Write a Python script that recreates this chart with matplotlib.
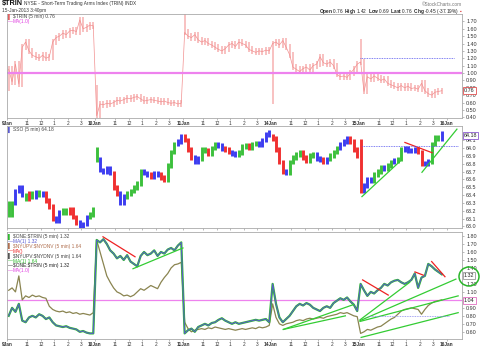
import matplotlib
matplotlib.use("Agg")
import matplotlib.pyplot as plt
import matplotlib.transforms as mtransforms
from matplotlib.patches import Ellipse
import numpy as np

# ---------------- data ----------------
days = ["9Jan", "10Jan", "11Jan", "14Jan", "15Jan"]
next_day = "16Jan"
hour_labels = ["11", "12", "1", "2", "3"]
hour_bars = [18, 30, 42, 54, 66]          # 5-min bars after the 9:30 open
BARS_PER_DAY = 78
STEP = 3                                  # one value per 15-minute block

# $TRIN closes (15-min blocks), and each day's opening print
trin_open = [0.80, 0.80, 1.78, 0.62, 1.42]
trin_9jan = [1.05, 0.88, 1.12, 0.85, 1.35, 1.42, 1.30, 1.24, 1.22, 1.20, 1.24, 1.20, 1.22,
             1.42, 1.48, 1.50, 1.54, 1.52, 1.57, 1.58, 1.56, 1.72, 1.60, 1.62, 1.65, 1.64]
trin_10jan = [0.42, 0.58, 0.57, 0.59, 0.58, 0.60, 0.63, 0.62, 0.64, 0.66, 0.65, 0.67, 0.68,
              0.65, 0.62, 0.63, 0.64, 0.63, 0.62, 0.61, 0.62, 0.60, 0.59, 0.60, 0.58, 0.59]
trin_11jan = [1.55, 1.50, 1.48, 1.52, 1.45, 1.42, 1.44, 1.40, 1.38, 1.35, 1.32, 1.30, 1.33,
              1.38, 1.40, 1.36, 1.42, 1.40, 1.38, 1.32, 1.30, 1.28, 1.30, 1.29, 1.31, 1.30]
trin_14jan = [1.40, 1.42, 1.38, 1.44, 1.35, 1.25, 1.08, 1.05, 1.02, 1.06, 1.08, 1.04, 1.10,
              1.12, 1.22, 1.14, 1.12, 1.15, 1.10, 0.98, 0.95, 0.96, 0.94, 1.00, 1.05, 1.12]
trin_15jan = [1.15, 0.75, 0.95, 0.92, 0.96, 0.93, 0.90, 0.92, 0.86, 0.84, 0.82, 0.80, 0.83,
              0.80, 0.82, 0.79, 0.80, 0.78, 0.86, 0.76, 0.72, 0.70, 0.74, 0.75, 0.76]

# SSO closes (15-min blocks), day opens and bar colours (g/r/b)
sso_open = [63.30, 63.98, 64.15, 64.15, 64.08]
sso_9jan = [63.15, 63.30, 63.45, 63.50, 63.40, 63.36, 63.42, 63.38, 63.43, 63.40, 63.42, 63.33, 63.25,
            63.10, 63.08, 63.18, 63.20, 63.18, 63.22, 63.12, 63.05, 63.01, 63.03, 63.12, 63.15, 63.22]
sso_10jan = [63.85, 63.72, 63.70, 63.74, 63.68, 63.50, 63.42, 63.30, 63.38, 63.42, 63.45, 63.50, 63.55,
             63.70, 63.68, 63.66, 63.64, 63.68, 63.66, 63.62, 63.60, 63.78, 63.95, 64.05, 64.08, 64.15]
sso_11jan = [64.10, 63.98, 63.88, 63.83, 63.87, 63.98, 63.97, 63.93, 64.00, 64.04, 64.03, 63.99, 63.98,
             63.95, 63.93, 63.92, 63.94, 64.02, 64.03, 64.00, 64.05, 64.06, 64.04, 64.10, 64.17, 64.20]
sso_14jan = [64.12, 63.98, 63.82, 63.70, 63.68, 63.82, 63.88, 63.92, 63.95, 63.88, 63.84, 63.90, 63.92,
             63.87, 63.85, 63.82, 63.86, 63.90, 63.95, 64.00, 64.05, 64.08, 64.12, 64.08, 63.98, 63.90]
sso_15jan = [63.45, 63.52, 63.60, 63.58, 63.66, 63.70, 63.75, 63.74, 63.78, 63.82, 63.84, 63.86, 63.98,
             64.00, 63.97, 63.96, 63.98, 63.95, 63.80, 63.80, 63.83, 64.05, 64.13, 64.12, 64.18]
sso_colors = ["ggbbbgrgbgbrrrbbggrrrbbbgg",
              "gbbbbrrbbgggggbbrbbrrgggbb",
              "rrrbbggrggbbrrbbgggrggbbbb",
              "rrrrbggggrrggbbrbgggbbbrrr",
              "rbbbgggbggbggbbbbrrbbgggb"]

# $ONE:$TRIN (15-min blocks)
one_9jan = [0.80, 0.90, 0.85, 0.95, 0.74, 0.72, 0.78, 0.80, 0.78, 0.82, 0.80, 0.76, 0.78,
            0.72, 0.68, 0.67, 0.66, 0.67, 0.65, 0.64, 0.63, 0.60, 0.61, 0.59, 0.58, 0.58]
one_10jan = [1.75, 1.72, 1.76, 1.70, 1.62, 1.58, 1.52, 1.55, 1.50, 1.56, 1.48, 1.45, 1.42,
             1.55, 1.60, 1.56, 1.58, 1.62, 1.55, 1.60, 1.58, 1.63, 1.65, 1.62, 1.68, 1.72]
one_11jan = [0.58, 0.62, 0.64, 0.60, 0.66, 0.68, 0.70, 0.68, 0.71, 0.72, 0.75, 0.77, 0.74,
             0.72, 0.70, 0.72, 0.70, 0.71, 0.72, 0.73, 0.74, 0.75, 0.74, 0.75, 0.76, 0.72]
one_14jan = [1.20, 0.95, 0.78, 0.72, 0.76, 0.80, 0.86, 0.92, 0.95, 0.93, 0.96, 0.94, 0.90,
             0.88, 0.86, 0.90, 0.92, 0.90, 0.96, 0.99, 1.02, 1.00, 1.03, 0.98, 0.94, 0.86]
one_15jan = [1.20, 1.12, 1.05, 1.10, 1.08, 1.12, 1.15, 1.20, 1.18, 1.22, 1.24, 1.25, 1.22,
             1.20, 1.22, 1.25, 1.33, 1.15, 1.28, 1.30, 1.45, 1.42, 1.38, 1.35, 1.32]

# $NYUPV:$NYDNV (15-min blocks)
upv_9jan = [1.12, 1.15, 1.10, 1.30, 1.00, 1.05, 1.03, 1.06, 1.04, 1.05, 1.03, 1.02, 0.92,
            0.88, 0.86, 0.85, 0.86, 0.84, 0.85, 0.83, 0.84, 0.82, 0.83, 0.82, 0.81, 0.84]
upv_10jan = [1.75, 1.60, 1.45, 1.30, 1.22, 1.15, 1.10, 1.08, 1.05, 1.06, 1.04, 1.06, 1.10,
             1.14, 1.12, 1.15, 1.18, 1.16, 1.14, 1.22, 1.28, 1.33, 1.40, 1.44, 1.45, 1.47]
upv_11jan = [0.72, 0.64, 0.60, 0.62, 0.63, 0.64, 0.63, 0.65, 0.64, 0.66, 0.65, 0.64, 0.63,
             0.64, 0.63, 0.62, 0.63, 0.64, 0.63, 0.64, 0.65, 0.64, 0.66, 0.65, 0.66, 0.68]
upv_14jan = [0.95, 0.78, 0.70, 0.68, 0.70, 0.71, 0.72, 0.74, 0.75, 0.74, 0.76, 0.77, 0.76,
             0.77, 0.78, 0.77, 0.79, 0.80, 0.81, 0.82, 0.84, 0.83, 0.84, 0.82, 0.80, 0.79]
upv_15jan = [0.58, 0.60, 0.63, 0.62, 0.64, 0.66, 0.67, 0.70, 0.73, 0.76, 0.78, 0.82, 0.86,
             0.88, 0.89, 0.90, 0.89, 0.88, 0.82, 0.88, 0.93, 0.96, 0.98, 0.99, 1.00]

# hand-drawn trend lines: ((bar, value), (bar, value))
sso_green_lines = [((314.7, 63.38), (348.4, 63.83)), ((367.9, 63.69), (398.9, 64.24))]
sso_red_lines = [((352.8, 64.07), (376.8, 63.94))]
sso_dotted = (314.7, 399.8, 64.03)
trin_dotted = (313.0, 396.0, 1.20)
ratio_red_lines = [((85.1, 1.79), (113.5, 1.54)), ((315.3, 1.25), (338.0, 1.06)),
                   ((361.7, 1.35), (369.0, 1.31)), ((376.5, 1.48), (388.3, 1.29))]
ratio_green_lines = [((111.7, 1.39), (156.0, 1.65)), ((245.0, 0.63), (307.0, 0.94)),
                     ((245.0, 0.63), (300.0, 0.80)), ((313.0, 0.75), (357.0, 1.22)),
                     ((313.0, 0.74), (398.0, 1.26)), ((313.0, 0.73), (400.0, 1.05)),
                     ((314.0, 0.53), (400.0, 0.84))]
ratio_dotted = (320.0, 392.0, 0.80)

# ---------------- helpers ----------------
trin_days = [trin_9jan, trin_10jan, trin_11jan, trin_14jan, trin_15jan]
sso_days = [sso_9jan, sso_10jan, sso_11jan, sso_14jan, sso_15jan]
one_days = [one_9jan, one_10jan, one_11jan, one_14jan, one_15jan]
upv_days = [upv_9jan, upv_10jan, upv_11jan, upv_14jan, upv_15jan]


def positions(d, n):
    return d * BARS_PER_DAY + STEP * np.arange(n) + STEP / 2.0


def bars(series_days, opens, wick):
    xs, o, c, lo, hi = [], [], [], [], []
    for d, vals in enumerate(series_days):
        x = positions(d, len(vals))
        prev = opens[d]
        for xi, v in zip(x, vals):
            xs.append(xi); o.append(prev); c.append(v)
            lo.append(min(prev, v) - wick); hi.append(max(prev, v) + wick)
            prev = v
    return map(np.array, (xs, o, c, lo, hi))


FONT = ["Liberation Sans", "DejaVu Sans"]
plt.rcParams["font.family"] = FONT
plt.rcParams["mathtext.fontset"] = "custom"
plt.rcParams["mathtext.rm"] = "Liberation Sans"
plt.rcParams["mathtext.bf"] = "Liberation Sans:bold"
FS_Y = 3.9
FS_X = 3.4
FS_LEG = 3.5
FS_HDR = 3.4
TXT = "#333333"

fig = plt.figure(figsize=(4.80, 3.49), dpi=100)
W, H = 480.0, 349.0


def add_panel(top, bottom):
    return fig.add_axes([7 / W, 1 - bottom / H, (462 - 7) / W, (bottom - top) / H])


ax1 = add_panel(14, 118)
ax2 = add_panel(126, 228)
ax3 = add_panel(232, 339)
XMAX = 403.4

for ax in (ax1, ax2, ax3):
    ax.set_xlim(0, XMAX)
    for s in ax.spines.values():
        s.set_color("#aaaaaa"); s.set_linewidth(0.6)
    ax.yaxis.tick_right()
    ax.tick_params(axis="y", labelsize=FS_Y, length=1.5, width=0.4, pad=1.5,
                   colors="#888888", labelcolor=TXT)
    ax.tick_params(axis="x", labelsize=FS_X, length=1.5, width=0.4, pad=1.0,
                   colors="#888888", labelcolor=TXT)

# x ticks
xt, xl = [], []
for d, name in enumerate(days + [next_day]):
    xt.append(d * BARS_PER_DAY); xl.append(name)
    if d < len(days):
        for hb, hl in zip(hour_bars, hour_labels):
            xt.append(d * BARS_PER_DAY + hb); xl.append(hl)
for ax in (ax1, ax3):
    ax.set_xticks(xt)
    ax.set_xticklabels(xl)
    for lab in ax.get_xticklabels():
        if "Jan" in lab.get_text():
            lab.set_fontweight("bold")
ax2.set_xticks(xt)
ax2.set_xticklabels([])

# ---------------- panel 1: $TRIN ----------------
x, o, c, lo, hi = bars(trin_days, trin_open, 0.04)
ax1.vlines(x, lo, hi, color="#f7b0b0", lw=1.1)
ax1.plot(x, c, color="#f29090", lw=0.5)
ax1.axhline(1.0, color="#ee82ee", lw=1.6)
ax1.hlines(trin_dotted[2], trin_dotted[0], trin_dotted[1], color="#5555ee", lw=0.6,
           linestyles=(0, (1, 1)))
ax1.set_ylim(0.39, 1.80)
yt1 = np.round(np.arange(0.4, 1.71, 0.1), 2)
ax1.set_yticks(yt1)
ax1.set_yticklabels(["%.2f" % v for v in yt1])

# ---------------- panel 2: SSO ----------------
x, o, c, lo, hi = bars(sso_days, sso_open, 0.03)
cmap = {"g": "#3cc03c", "r": "#f03030", "b": "#3c3cf0"}
cols = [cmap[ch] for s in sso_colors for ch in s]
ax2.vlines(x, lo, hi, color=cols, lw=2.1)
for (x0, y0), (x1, y1) in sso_green_lines:
    ax2.plot([x0, x1], [y0, y1], color="#33cc33", lw=0.9)
for (x0, y0), (x1, y1) in sso_red_lines:
    ax2.plot([x0, x1], [y0, y1], color="#ee2222", lw=0.9)
ax2.hlines(sso_dotted[2], sso_dotted[0], sso_dotted[1], color="#5555ee", lw=0.6,
           linestyles=(0, (1, 1)))
ax2.set_ylim(62.98, 64.28)
yt2 = np.round(np.arange(63.0, 64.11, 0.1), 1)
ax2.set_yticks(yt2)
ax2.set_yticklabels(["%.1f" % v for v in yt2])

# ---------------- panel 3: ratios ----------------
xo = np.concatenate([positions(d, len(v)) for d, v in enumerate(one_days)])
yo = np.concatenate(one_days)
xu = np.concatenate([positions(d, len(v)) for d, v in enumerate(upv_days)])
yu = np.concatenate(upv_days)
ax3.axhline(1.0, color="#ee82ee", lw=0.9)
ax3.plot(xu, yu, color="#8a8450", lw=0.9)
ax3.plot(xo, yo, color="#2eb82e", lw=1.6)
ax3.plot(xo, yo, color="#5a5ad0", lw=0.7)
for (x0, y0), (x1, y1) in ratio_green_lines:
    ax3.plot([x0, x1], [y0, y1], color="#33cc33", lw=0.9)
for (x0, y0), (x1, y1) in ratio_red_lines:
    ax3.plot([x0, x1], [y0, y1], color="#ee2222", lw=0.9)
ax3.hlines(ratio_dotted[2], ratio_dotted[0], ratio_dotted[1], color="#8888ee", lw=0.6,
           linestyles=(0, (1, 1)))
ax3.set_ylim(0.51, 1.85)
yt3 = np.round(np.arange(0.6, 1.81, 0.1), 2)
ax3.set_yticks(yt3)
ax3.set_yticklabels(["" if abs(v - 1.0) < 0.01 or abs(v - 1.3) < 0.01 else "%.2f" % v
                     for v in yt3])

# ---------------- price boxes ----------------
def price_box(ax, val, text, ec):
    tr = mtransforms.blended_transform_factory(ax.transAxes, ax.transData)
    ax.text(1.004, val, text, transform=tr, fontsize=FS_Y, color="#222222", va="center",
            ha="left", bbox=dict(boxstyle="square,pad=0.2", fc="white", ec=ec, lw=0.6),
            clip_on=False, zorder=10)

price_box(ax1, 0.76, "0.76", "#e05050")
price_box(ax2, 64.16, "64.18", "#8a5ad0")
price_box(ax3, 1.31, "1.32", "#999999")
price_box(ax3, 0.995, "1.04", "#e070c0")
fig.add_artist(Ellipse((469 / W, 1 - 276.5 / H), 20 / W, 19 / H, fill=False,
                       ec="#2ab52a", lw=1.1, transform=fig.transFigure))

# ---------------- legends ----------------
def legend_lines(items, top_px, step_px):
    for i, (txt, col, mark, mcol) in enumerate(items):
        fy = 1 - (top_px + i * step_px) / H
        fig.text(8 / W, fy, mark, fontsize=FS_LEG, color=mcol, va="center", ha="left")
        fig.text(13 / W, fy, txt, fontsize=FS_LEG, color=col, va="center", ha="left")

legend_lines([(r"\$TRIN (5 min) 0.76", "#444444", "\u258c", "#e06060"),
              ("MA(1.0)", "#e040e0", "\u2014", "#e040e0")], 16.5, 4.9)
legend_lines([("SSO (5 min) 64.18", "#444444", "\u258c", "#5a5ad0")], 129.5, 4.9)
legend_lines([(r"\$ONE:\$TRIN (5 min) 1.32", "#444444", "\u258c", "#2eb82e"),
              ("MA(1) 1.32", "#5a5ad0", "\u2014", "#5a5ad0"),
              (r"\$NYUPV:\$NYDNV (5 min) 1.64", "#b07050", "\u258c", "#b07050"),
              ("MA()", "#ee2222", "\u2014", "#ee2222"),
              (r"\$NYUPV:\$NYDNV (5 min) 1.64", "#444444", "\u258c", "#555555"),
              ("MA(1) 1.64", "#2eb82e", "\u2014", "#2eb82e"),
              (r"\$ONE:\$TRIN (5 min) 1.32", "#222222", "\u2014", "#222222"),
              ("MA(1.0)", "#e040e0", "\u2014", "#e040e0")], 236.5, 4.9)

# ---------------- header ----------------
fig.text(2 / W, 1 - 4 / H, r"\$TRIN", fontsize=5.2, fontweight="bold", color="#111111",
         va="center")
fig.text(24 / W, 1 - 4 / H, "NYSE - Short-Term Trading Arms Index (TRIN) INDX", fontsize=FS_HDR,
         color="#333333", va="center")
fig.text(2 / W, 1 - 10.5 / H, "15-Jan-2013 3:40pm", fontsize=FS_HDR, color="#333333", va="center")
fig.text(462 / W, 1 - 4 / H, "\u00a9StockCharts.com", fontsize=FS_HDR, color="#777777",
         va="center", ha="right")
fig.text(459 / W, 1 - 11 / H,
         r"$\mathbf{Open}$ 0.76  $\mathbf{High}$ 1.42  $\mathbf{Low}$ 0.69  "
         r"$\mathbf{Last}$ 0.76  $\mathbf{Chg}$ -0.45 (-37.19%)",
         fontsize=FS_HDR, color="#222222", va="center", ha="right")
fig.text(460 / W, 1 - 11 / H, "\u25aa", fontsize=FS_HDR, color="#dd3333", va="center", ha="left")

fig.savefig("out.png", dpi=100)
